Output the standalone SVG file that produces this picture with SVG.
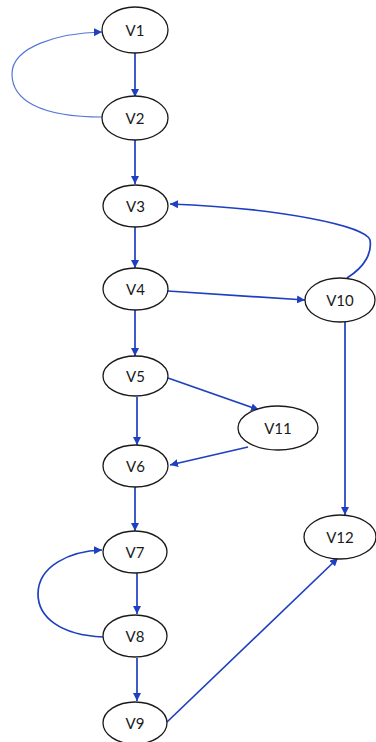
<svg xmlns="http://www.w3.org/2000/svg" width="376" height="742" viewBox="0 0 376 742">
  <style>
    .node ellipse { fill: #ffffff; stroke: #1a1a1a; stroke-width: 1.3; }
    .node text { font-family: Lato, "Open Sans", "Liberation Sans", sans-serif; font-size: 15px; fill: #1a1a1a; text-anchor: middle; dominant-baseline: central; }
    .edge { fill: none; stroke: #1e3fbf; stroke-width: 1.7; marker-end: url(#arrow); }
    .edge.light { stroke: #5577d6; stroke-width: 1.2; }
  </style>
  <defs>
    <marker id="arrow" viewBox="0 0 10 10" refX="10" refY="5" markerWidth="8" markerHeight="8" markerUnits="userSpaceOnUse" orient="auto">
      <path d="M0,0 L10,5 L0,10 z" fill="#1e3fbf"/>
    </marker>
  </defs>

  <rect width="376" height="742" fill="#ffffff"/>

  <g id="edges">
    <path class="edge" d="M135,53 L135,97"/>
    <path class="edge light" d="M102,117 C40,117 12,100 12,74 C12,46 60,33 102,32"/>
    <path class="edge" d="M135,140 L135,184"/>
    <path class="edge" d="M135,227 L135,268"/>
    <path class="edge" d="M168,291 L305,300"/>
    <path class="edge" d="M347,278 C366,266 372,252 370,240 C366,226 280,208 170,204"/>
    <path class="edge" d="M135,310 L135,356"/>
    <path class="edge" d="M168,378 L259,410"/>
    <path class="edge" d="M137,397 L137,445"/>
    <path class="edge" d="M248,447 L170,465"/>
    <path class="edge" d="M345,322 L345,515"/>
    <path class="edge" d="M135,487 L135,531"/>
    <path class="edge" d="M137,573 L137,614"/>
    <path class="edge" d="M103,637 C60,635 38,617 38,594 C38,566 70,551 102,550"/>
    <path class="edge" d="M137,658 L137,701"/>
    <path class="edge" d="M167,722 L338,558"/>
  </g>

  <g id="V1" class="node"><ellipse cx="135" cy="30" rx="33" ry="23"/><text x="135" y="30">V1</text></g>
  <g id="V2" class="node"><ellipse cx="135" cy="118" rx="33" ry="22"/><text x="135" y="118">V2</text></g>
  <g id="V3" class="node"><ellipse cx="135.5" cy="206" rx="32.5" ry="21"/><text x="135.5" y="206">V3</text></g>
  <g id="V4" class="node"><ellipse cx="135.5" cy="289" rx="32.5" ry="21"/><text x="135.5" y="289">V4</text></g>
  <g id="V10" class="node"><ellipse cx="340" cy="300" rx="35" ry="22"/><text x="340" y="300">V10</text></g>
  <g id="V5" class="node"><ellipse cx="135.5" cy="376" rx="32.5" ry="20"/><text x="135.5" y="376">V5</text></g>
  <g id="V11" class="node"><ellipse cx="278" cy="428" rx="40" ry="22"/><text x="278" y="428">V11</text></g>
  <g id="V6" class="node"><ellipse cx="135.5" cy="466" rx="32.5" ry="21"/><text x="135.5" y="466">V6</text></g>
  <g id="V12" class="node"><ellipse cx="340" cy="537" rx="36" ry="22"/><text x="340" y="537">V12</text></g>
  <g id="V7" class="node"><ellipse cx="135" cy="552" rx="32" ry="21"/><text x="135" y="552">V7</text></g>
  <g id="V8" class="node"><ellipse cx="135" cy="636" rx="32" ry="21"/><text x="135" y="636">V8</text></g>
  <g id="V9" class="node"><ellipse cx="135" cy="723" rx="32" ry="21"/><text x="135" y="723">V9</text></g>
</svg>
